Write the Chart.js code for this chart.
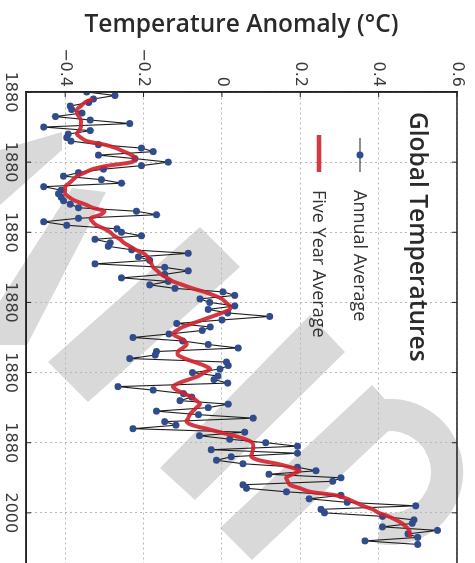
<!DOCTYPE html>
<html>
<head>
<meta charset="utf-8">
<script src="https://cdn.jsdelivr.net/npm/chart.js@4.4.1/dist/chart.umd.min.js"></script>
<style>
  html, body { margin: 0; padding: 0; background: #fff; overflow: hidden; width: 475px; height: 563px; }
  /* the chart is drawn lying down and turned a quarter turn clockwise */
  #wrap { position: absolute; left: 0; top: 0; width: 600px; height: 475px;
          transform-origin: 0 0; transform: translate(475px, 0) rotate(90deg); }
  canvas { display: block; }
</style>
</head>
<body>
<div id="wrap"><canvas id="myChart" width="600" height="475"></canvas></div>
<script>
// Datos

const startYear = 1880;
const annualAverage = [
  -0.345, -0.273, -0.328, -0.34, -0.387, -0.383, -0.357, -0.425, -0.336, -0.235,
  -0.455, -0.336, -0.392, -0.396, -0.385, -0.315, -0.205, -0.175, -0.315, -0.222,
  -0.137, -0.205, -0.302, -0.366, -0.404, -0.307, -0.256, -0.455, -0.41, -0.417,
  -0.41, -0.404, -0.387, -0.366, -0.218, -0.167, -0.366, -0.455, -0.396, -0.268,
  -0.256, -0.205, -0.324, -0.285, -0.29, -0.23, -0.086, -0.213, -0.184, -0.324,
  -0.146, -0.086, -0.146, -0.256, -0.137, -0.184, -0.12, 0.003, 0.033, -0.056,
  -0.031, 0.033, -0.035, 0.015, 0.122, 0.0, -0.115, -0.03, -0.05, -0.135,
  -0.227, -0.1, -0.035, 0.042, -0.167, -0.17, -0.235, 0.012, 0.016, -0.005,
  -0.075, -0.01, -0.02, 0.015, -0.265, -0.175, -0.098, -0.077, -0.107, 0.016,
  -0.035, -0.167, -0.06, 0.08, -0.146, -0.117, -0.227, 0.058, -0.057, 0.02,
  0.112, 0.193, -0.027, 0.193, 0.024, -0.014, 0.054, 0.193, 0.24, 0.12,
  0.304, 0.283, 0.054, 0.063, 0.165, 0.304, 0.223, 0.32, 0.495, 0.253,
  0.262, 0.41, 0.49, 0.486, 0.41, 0.55, 0.475, 0.5, 0.365, 0.5
];

const fiveYearStart = 1882;
const fiveYearAverage = [
  -0.33, -0.35, -0.36, -0.37, -0.37, -0.365, -0.36, -0.36,
  -0.36, -0.365, -0.37, -0.36, -0.345, -0.30, -0.27, -0.25, -0.23, -0.22,
  -0.23, -0.29, -0.33, -0.35, -0.37, -0.38, -0.39, -0.40, -0.40, -0.40,
  -0.39, -0.375, -0.35, -0.33, -0.30, -0.31, -0.335, -0.33, -0.32, -0.30,
  -0.285, -0.275, -0.26, -0.25, -0.235, -0.22, -0.20, -0.19, -0.185, -0.18,
  -0.175, -0.165, -0.155, -0.14, -0.125, -0.10, -0.075, -0.045, -0.02, 0.0,
  0.01, 0.02, 0.02, 0.0, -0.025, -0.05, -0.075, -0.10, -0.115, -0.125,
  -0.11, -0.095, -0.09, -0.10, -0.112, -0.112, -0.095, -0.07, -0.045, -0.03,
  -0.045, -0.06, -0.085, -0.11, -0.125, -0.115, -0.095, -0.078, -0.065, -0.056,
  -0.065, -0.074, -0.082, -0.086, -0.09, -0.075, -0.04, -0.005, 0.03, 0.06,
  0.078, 0.08, 0.079, 0.077, 0.075, 0.095, 0.14, 0.175, 0.198, 0.18,
  0.164, 0.168, 0.173, 0.20, 0.225, 0.29, 0.32, 0.34, 0.36, 0.385,
  0.40, 0.425, 0.444, 0.46, 0.47, 0.478, 0.48, 0.48
];

const yearTicks = [1880, 1900, 1920, 1940, 1960, 1980, 2000];
const yearTickLabels = ['1880', '1880', '1880', '1880', '1880', '1880', '2000'];
const tempTicks = [-0.4, -0.2, 0, 0.2, 0.4, 0.6];

// Colores

const lineaAnual = '#1e1e1e';
const puntoAnual = '#304c8c';
const lineaCinco = 'rgba(208, 34, 44, 0.9)';
const grisMarca = '#d9d9d9';

// Marca de agua (coordenadas de la pagina ya girada)

const bandas = [
  [[200, 227], [240, 267], [88, 402], [48, 362]],
  [[310, 315], [345, 352], [195, 500], [160, 468]],
  [[372, 385], [402, 418], [252, 560], [220, 528]],
  [[72, 188], [106, 192], [27, 345], [-28, 345]],
  [[0, 150], [62, 132], [62, 150], [0, 205]]
];

// Pasar los datos a puntos {x, y}

let puntos = (inicio, valores) => valores.map((v, i) => ({ x: inicio + i, y: v }));

// Marca de agua al fondo de todo

const marca = {
  id: 'marca',
  beforeDraw(chart) {
    const { ctx, height } = chart;
    ctx.save();
    ctx.translate(0, height);
    ctx.rotate(-Math.PI / 2);
    ctx.fillStyle = grisMarca;
    bandas.forEach(b => {
      ctx.beginPath();
      b.forEach((p, i) => (i ? ctx.lineTo(p[0], p[1]) : ctx.moveTo(p[0], p[1])));
      ctx.closePath();
      ctx.fill();
    });
    ctx.strokeStyle = grisMarca;
    ctx.lineWidth = 32;
    ctx.beginPath();
    ctx.arc(390, 472, 57, -1.9, 1.75);
    ctx.stroke();
    ctx.restore();
  }
};

// Marco, marcas interiores y leyenda dentro del grafico

const marco = {
  id: 'marco',
  afterDraw(chart) {
    const { ctx, chartArea: a, scales } = chart;
    ctx.save();
    ctx.strokeStyle = '#222';
    ctx.lineWidth = 1.5;
    ctx.strokeRect(a.left, a.top, a.right - a.left, a.bottom - a.top);
    ctx.lineWidth = 1;
    ctx.beginPath();
    yearTicks.forEach(v => {
      const x = scales.x.getPixelForValue(v);
      ctx.moveTo(x, a.bottom); ctx.lineTo(x, a.bottom - 5);
      ctx.moveTo(x, a.top); ctx.lineTo(x, a.top + 5);
    });
    tempTicks.forEach(v => {
      const y = scales.y.getPixelForValue(v);
      ctx.moveTo(a.left, y); ctx.lineTo(a.left + 5, y);
      ctx.moveTo(a.right, y); ctx.lineTo(a.right - 5, y);
    });
    ctx.stroke();

    // Leyenda
    ctx.fillStyle = '#2a2a2a';
    ctx.textBaseline = 'middle';
    ctx.textAlign = 'left';
    ctx.font = '600 24.5px "Open Sans"';
    ctx.fillText('Global Temperatures', 112, 58);

    const ds = chart.data.datasets;
    ctx.strokeStyle = ds[0].borderColor;
    ctx.lineWidth = 1;
    ctx.beginPath(); ctx.moveTo(138, 115); ctx.lineTo(172, 115); ctx.stroke();
    ctx.fillStyle = ds[0].pointBackgroundColor;
    ctx.beginPath(); ctx.arc(155, 115, 3.5, 0, Math.PI * 2); ctx.fill();

    ctx.strokeStyle = ds[1].borderColor;
    ctx.lineWidth = 4.5;
    ctx.beginPath(); ctx.moveTo(135, 156); ctx.lineTo(172, 156); ctx.stroke();

    ctx.fillStyle = '#333';
    ctx.font = '18px "Open Sans"';
    ctx.fillText(ds[0].label, 190, 116);
    ctx.fillText(ds[1].label, 190, 157);
    ctx.restore();
  }
};

// Crear grafico

const ctx = document.getElementById('myChart').getContext('2d');

const myChart = new Chart(ctx, {
  type: 'line',
  data: {
    datasets: [
      {
        label: 'Annual Average',
        data: puntos(startYear, annualAverage),
        borderColor: lineaAnual,
        borderWidth: 1.1,
        pointRadius: 3.5,
        pointBackgroundColor: puntoAnual,
        pointBorderColor: puntoAnual,
        pointBorderWidth: 0,
        tension: 0,
        order: 2
      },
      {
        label: 'Five Year Average',
        data: puntos(fiveYearStart, fiveYearAverage),
        borderColor: lineaCinco,
        borderWidth: 4,
        pointRadius: 0,
        tension: 0.3,
        order: 1
      }
    ]
  },
  options: {
    responsive: false,
    animation: false,
    devicePixelRatio: 1,
    layout: { padding: { left: 0, top: 18, right: 17, bottom: 0 } },
    plugins: { legend: { display: false }, tooltip: { enabled: false } },
    scales: {
      x: {
        type: 'linear',
        min: 1880,
        max: 2020,
        afterBuildTicks: s => { s.ticks = yearTicks.map(v => ({ value: v })); },
        afterFit: s => { s.height = 26; },
        ticks: {
          autoSkip: false,
          maxRotation: 0,
          padding: 6,
          color: '#3a3a3a',
          font: { family: 'DejaVu Sans', size: 16 },
          callback: v => yearTickLabels[yearTicks.indexOf(v)]
        },
        grid: { color: '#b8b8b8', drawTicks: false },
        border: { color: '#222', width: 1.5, dash: [2, 3] }
      },
      y: {
        min: -0.5,
        max: 0.6,
        afterBuildTicks: s => { s.ticks = tempTicks.map(v => ({ value: v })); },
        afterFit: s => { s.width = 92; },
        ticks: {
          padding: 5,
          color: '#3a3a3a',
          font: { family: 'DejaVu Sans', size: 16 },
          callback: v => (v < 0 ? '\u2212' : '') + Math.abs(v)
        },
        grid: { color: '#b8b8b8', drawTicks: false },
        border: { color: '#222', width: 1.5, dash: [2, 3] },
        title: {
          display: true,
          text: 'Temperature Anomaly (°C)',
          color: '#2a2a2a',
          font: { family: 'Open Sans', size: 24.5, weight: '600' },
          padding: { top: 10, bottom: 0 }
        }
      }
    }
  },
  plugins: [marca, marco]
});
</script>
</body>
</html>
